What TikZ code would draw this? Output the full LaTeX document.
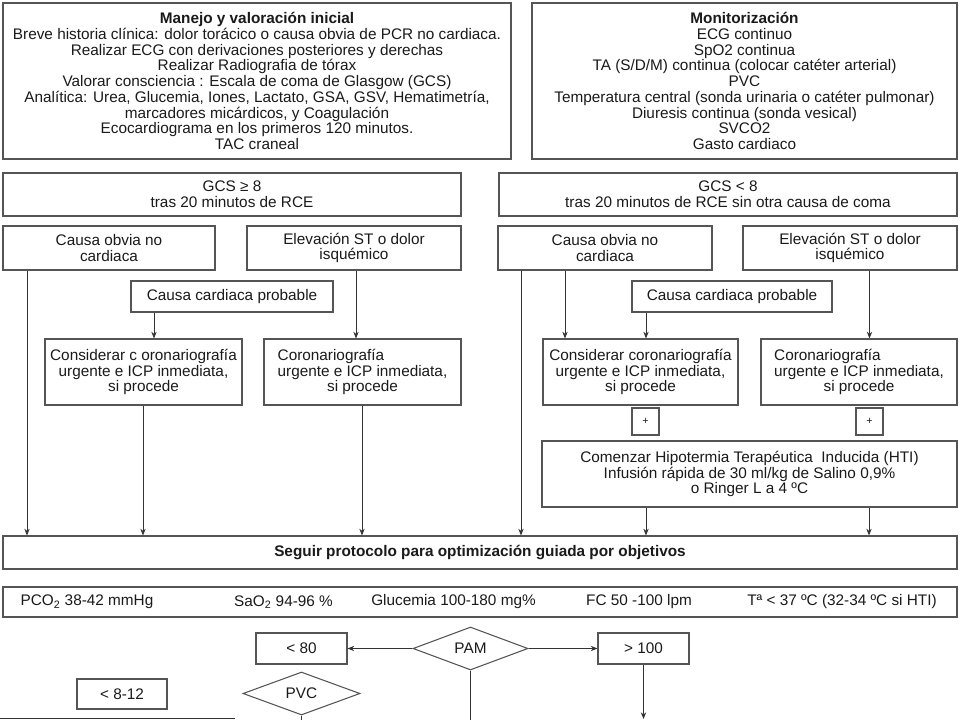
\documentclass[tikz,border=0pt]{standalone}
\usepackage{fontspec}
\setmainfont{Liberation Sans}
\usetikzlibrary{arrows.meta,shapes.geometric}
\definecolor{ln}{HTML}{555555}
\definecolor{ar}{HTML}{333333}
\definecolor{tx}{HTML}{1A1A1A}
\begin{document}
\begin{tikzpicture}[x=0.75pt,y=-0.75pt,
  font=\fontsize{11.5}{11.8}\selectfont,
  box/.style={draw=ln, line width=0.9pt, rectangle, inner sep=0pt, align=center, text=tx},
  dia/.style={draw=ln, line width=0.8pt, diamond, inner sep=0pt, text=tx},
  lbl/.style={inner sep=0pt, text=tx},
  arr/.style={draw=ar, line width=0.6pt, -{Stealth[length=5pt,width=4pt]}},
  plain/.style={draw=ar, line width=0.6pt}]
\useasboundingbox (0,0) rectangle (960,720);
\clip (0,0) rectangle (960,720);
\fill[white] (0,0) rectangle (960,720);

% top boxes
\node[box, minimum width=381pt, minimum height=117pt] (init) at (257,81)
 {\textbf{Manejo y valoración inicial}\\
  Breve historia clínica: dolor torácico o causa obvia de PCR no cardiaca.\\
  Realizar ECG con derivaciones posteriores y derechas\\
  Realizar Radiografia de tórax\\
  Valorar consciencia : Escala de coma de Glasgow (GCS)\\
  Analítica: Urea, Glucemia, Iones, Lactato, GSA, GSV, Hematimetría,\\
  marcadores micárdicos, y Coagulación\\
  Ecocardiograma en los primeros 120 minutos.\\
  TAC craneal};
\node[box, minimum width=318.75pt, minimum height=117pt] (mon) at (744.5,81)
 {\textbf{Monitorización}\\
  ECG continuo\\
  SpO2 continua\\
  TA (S/D/M) continua (colocar catéter arterial)\\
  PVC\\
  Temperatura central (sonda urinaria o catéter pulmonar)\\
  Diuresis continua (sonda vesical)\\
  SVCO2\\
  Gasto cardiaco};

% GCS boxes
\node[box, minimum width=343.5pt, minimum height=32.25pt] (gcsA) at (232,194.5)
 {GCS ≥ 8\\tras 20 minutos de RCE};
\node[box, minimum width=343.5pt, minimum height=32.25pt] (gcsB) at (728,194.5)
 {GCS < 8\\tras 20 minutos de RCE sin otra causa de coma};

% left branch
\node[box, minimum width=159pt, minimum height=33pt] (obviaL) at (109,248)
 {Causa obvia no\\cardiaca};
\node[box, minimum width=160.5pt, minimum height=33pt] (elevL) at (354,248)
 {Elevación ST o dolor\\isquémico};
\node[box, minimum width=151.5pt, minimum height=23.25pt] (probL) at (232,296.5)
 {Causa cardiaca probable};
\node[box, minimum width=147.75pt, minimum height=49.5pt] (consL) at (143.5,372)
 {Considerar c oronariografía\\urgente e ICP inmediata,\\si procede};
\node[box, minimum width=147.75pt, minimum height=49.5pt] (coroL) at (362.5,372)
 {\rlap{Coronariografía}\phantom{urgente e ICP inmediata,}\\urgente e ICP inmediata,\\si procede};

% right branch
\node[box, minimum width=160.5pt, minimum height=33pt] (obviaR) at (605,248)
 {Causa obvia no\\cardiaca};
\node[box, minimum width=160.5pt, minimum height=33pt] (elevR) at (850,248)
 {Elevación ST o dolor\\isquémico};
\node[box, minimum width=150pt, minimum height=23.25pt] (probR) at (732,296.5)
 {Causa cardiaca probable};
\node[box, minimum width=146.25pt, minimum height=49.5pt] (consR) at (640.5,372)
 {Considerar coronariografía\\urgente e ICP inmediata,\\si procede};
\node[box, minimum width=147pt, minimum height=49.5pt] (coroR) at (859,372)
 {\rlap{Coronariografía}\phantom{urgente e ICP inmediata,}\\urgente e ICP inmediata,\\si procede};
\node[box, minimum width=20.25pt, minimum height=20.25pt] (plusA) at (645.5,421.5) {\footnotesize +};
\node[box, minimum width=20.25pt, minimum height=20.25pt] (plusB) at (869.5,421.5) {\footnotesize +};
\node[box, minimum width=311.25pt, minimum height=49.5pt] (hti) at (749.5,474)
 {Comenzar Hipotermia Terapéutica\ \ Inducida (HTI)\\
  Infusión rápida de 30 ml/kg de Salino 0,9\%\\
  o Ringer L a 4 ºC};

% protocol
\node[box, minimum width=715.5pt, minimum height=24.75pt] (seguir) at (480,552.5)
 {\textbf{Seguir protocolo para optimización guiada por objetivos}};
\node[box, minimum width=715.5pt, minimum height=22.5pt] (params) at (480,602) {};
\node[lbl] (pco) at (87,602) {PCO\textsubscript{2} 38-42 mmHg};
\node[lbl] (sao) at (283.5,602) {SaO\textsubscript{2} 94-96 \%};
\node[lbl] (glu) at (453.5,602) {Glucemia 100-180 mg\%};
\node[lbl] (fc) at (639,602) {FC 50 -100 lpm};
\node[lbl] (tmp) at (842,602) {Tª < 37 ºC (32-34 ºC si HTI)};

% bottom
\node[box, minimum width=68.25pt, minimum height=23.25pt] (lt80) at (301.5,648.5) {< 80};
\node[dia, minimum width=86.25pt, minimum height=32.25pt] (pam) at (470.5,648.5) {PAM};
\node[box, minimum width=68.25pt, minimum height=23.25pt] (gt100) at (643.5,648.5) {> 100};
\node[dia, minimum width=87.75pt, minimum height=32.25pt] (pvc) at (301.5,693.5) {PVC};
\node[box, minimum width=67.5pt, minimum height=22.5pt] (lt812) at (122,694) {< 8-12};

% column coordinates
\coordinate (c27) at (27,0);
\coordinate (c143) at (143,0);
\coordinate (c154) at (154,0);
\coordinate (c356) at (356,0);
\coordinate (c362) at (362,0);
\coordinate (c521) at (521,0);
\coordinate (c565) at (565,0);
\coordinate (c646) at (646,0);
\coordinate (c869) at (869,0);
\coordinate (bot) at (0,726);
\coordinate (tip) at (0,719);
\coordinate (hA) at (0,718);
\coordinate (hB) at (235,718);

% connectors
\draw[arr] (c27 |- obviaL.south) -- (c27 |- seguir.north);
\draw[arr] (c154 |- probL.south) -- (c154 |- consL.north);
\draw[arr] (c356 |- elevL.south) -- (c356 |- coroL.north);
\draw[arr] (c143 |- consL.south) -- (c143 |- seguir.north);
\draw[arr] (c362 |- coroL.south) -- (c362 |- seguir.north);
\draw[arr] (c521 |- obviaR.south) -- (c521 |- seguir.north);
\draw[arr] (c565 |- obviaR.south) -- (c565 |- consR.north);
\draw[arr] (c646 |- probR.south) -- (c646 |- consR.north);
\draw[arr] (elevR.south -| plusB) -- (plusB |- coroR.north);
\draw[arr] (c646 |- hti.south) -- (c646 |- seguir.north);
\draw[arr] (c869 |- hti.south) -- (c869 |- seguir.north);
\draw[arr] (pam.west) -- (lt80.east);
\draw[arr] (pam.east) -- (gt100.west);
\draw[arr] (gt100.south) -- (gt100.south |- tip);
\draw[plain] (pam.south) -- (pam.south |- bot);
\draw[plain] (pvc.south) -- (pvc.south |- bot);
\draw[plain] (hA) -- (hB);
\end{tikzpicture}
\end{document}
